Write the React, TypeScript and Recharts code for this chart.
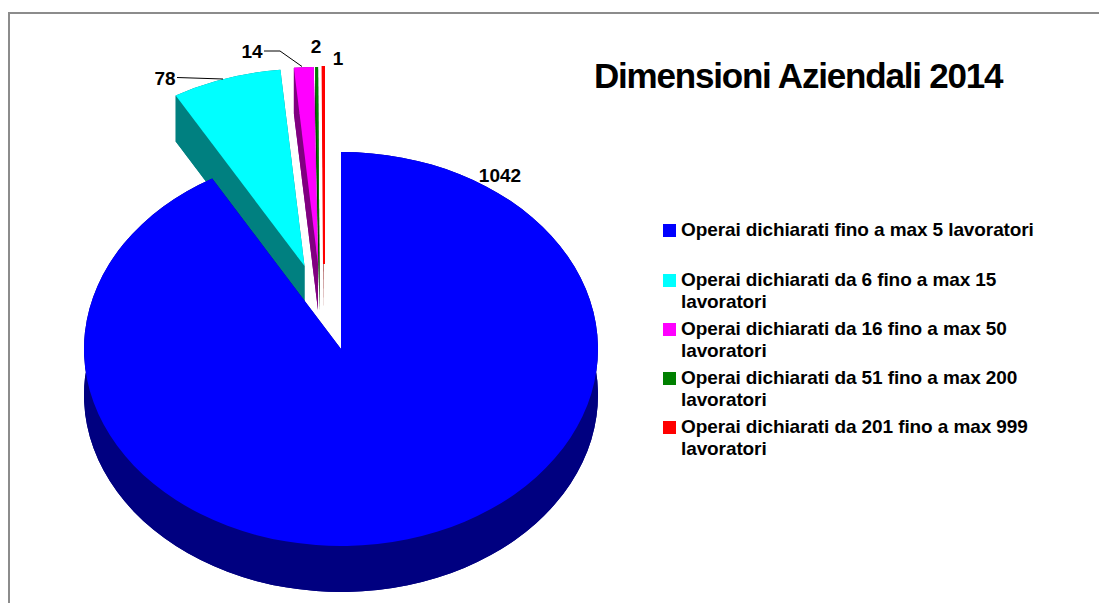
import React from "react";
import { PieChart, Pie, Legend } from "recharts";

const categories = [
  "Operai dichiarati fino a max 5 lavoratori",
  "Operai dichiarati da 6 fino a max 15 lavoratori",
  "Operai dichiarati da 16 fino a max 50 lavoratori",
  "Operai dichiarati da 51 fino a max 200 lavoratori",
  "Operai dichiarati da 201 fino a max 999 lavoratori",
];
const values = [1042, 78, 14, 2, 1];
const topColors = ["#0000ff", "#00ffff", "#ff00ff", "#008000", "#ff0000"];
const wallColors = ["#000080", "#008080", "#800080", "#003c00", "#800000"];
const title = "Dimensioni Aziendali 2014";

// Presentation settings, per series position
const explodeX = [0, -36.5, -23, -21.5, -17];
const explodeY = [0, -83, -85, -85, -85];
const topStroke = [0, 0, 0, 0, 2];
const labelX = [500, 165, 252, 316, 338];
const labelY = [175, 78, 51, 46, 58];
const leaders: (number[][] | null)[] = [
  null,
  [[177, 77.5], [223, 79]],
  [[264, 51], [280, 51], [302, 66.5]],
  null,
  null,
];
const legendTops = [219, 269, 318, 367, 416];

const FONT = '"Liberation Sans", Arial, sans-serif';
const CX = 341;
const CY = 349;
const RX = 257;
const RY = 197;
const DEPTH = 46;

// Drawn back to front: small exploded slices first, the big slice last.
const chartData = values
  .map((value, i) => ({ name: categories[i], value, idx: i, fill: topColors[i] }))
  .reverse();

function pt(cx: number, cy: number, deg: number, dy = 0) {
  const t = (deg * Math.PI) / 180;
  return [cx + RX * Math.cos(t), cy - RY * Math.sin(t) + dy];
}

function SliceShape(props: any) {
  const { startAngle, endAngle } = props;
  const idx = props.idx ?? props.payload?.idx ?? 0;
  const cx = CX + explodeX[idx];
  const cy = CY + explodeY[idx];
  const p1 = pt(cx, cy, startAngle);
  const p2 = pt(cx, cy, endAngle);
  const q1 = pt(cx, cy, startAngle, DEPTH);
  const q2 = pt(cx, cy, endAngle, DEPTH);
  const large = Math.abs(endAngle - startAngle) > 180 ? 1 : 0;
  const arc = (a: number[], sweep: number) => `A${RX} ${RY} 0 ${large} ${sweep} ${a[0]} ${a[1]}`;
  const top = `M${cx} ${cy}L${p1[0]} ${p1[1]}${arc(p2, 0)}Z`;
  const bottom = `M${cx} ${cy + DEPTH}L${q1[0]} ${q1[1]}${arc(q2, 0)}Z`;
  const rim = `M${p1[0]} ${p1[1]}${arc(p2, 0)}L${q2[0]} ${q2[1]}${arc(q1, 1)}Z`;
  const side1 = `M${cx} ${cy}L${p1[0]} ${p1[1]}L${q1[0]} ${q1[1]}L${cx} ${cy + DEPTH}Z`;
  const side2 = `M${cx} ${cy}L${p2[0]} ${p2[1]}L${q2[0]} ${q2[1]}L${cx} ${cy + DEPTH}Z`;
  const wall = wallColors[idx];
  return (
    <g>
      <path d={bottom} fill={wall} />
      <path d={rim} fill={wall} />
      <path d={side1} fill={wall} />
      <path d={side2} fill={wall} />
      <path
        d={top}
        fill={topColors[idx]}
        stroke={topStroke[idx] ? topColors[idx] : "none"}
        strokeWidth={topStroke[idx]}
      />
    </g>
  );
}

function SliceLabel(props: any) {
  const idx = props.idx ?? props.payload?.idx ?? 0;
  const line = leaders[idx];
  return (
    <g>
      {line && (
        <polyline
          points={line.map((p) => p.join(",")).join(" ")}
          fill="none"
          stroke="#000"
          strokeWidth={1}
        />
      )}
      <text
        x={labelX[idx]}
        y={labelY[idx]}
        textAnchor="middle"
        dominantBaseline="central"
        fontFamily={FONT}
        fontWeight="bold"
        fontSize={19}
        fill="#000"
      >
        {values[idx]}
      </text>
    </g>
  );
}

function LegendBox() {
  return (
    <div style={{ position: "relative", width: 400, height: 260 }}>
      {categories.map((c, i) => (
        <div key={c} style={{ position: "absolute", left: 0, top: legendTops[i] - 219, width: 372 }}>
          <div
            style={{
              position: "absolute",
              left: 0,
              top: 5,
              width: 13,
              height: 13,
              background: topColors[i],
            }}
          />
          <div
            style={{
              marginLeft: 18,
              font: `bold 19px/22px ${FONT}`,
              letterSpacing: -0.1,
              color: "#000",
              textAlign: "left",
            }}
          >
            {c}
          </div>
        </div>
      ))}
    </div>
  );
}

export default function App() {
  return (
    <div
      style={{
        position: "absolute",
        left: 0,
        top: 0,
        width: 1099,
        height: 603,
        overflow: "hidden",
        background: "#fff",
      }}
    >
      <div
        style={{
          position: "absolute",
          left: 8,
          top: 12,
          right: -4,
          bottom: -4,
          borderLeft: "2px solid #8c8c8c",
          borderTop: "2px solid #8c8c8c",
        }}
      />
      <div
        style={{
          position: "absolute",
          left: 594,
          top: 56,
          font: `bold 35px/40px ${FONT}`,
          letterSpacing: -1.2,
          color: "#000",
          whiteSpace: "nowrap",
        }}
      >
        {title}
      </div>
      <div style={{ position: "absolute", left: 0, top: 0 }}>
        <PieChart width={1099} height={603} margin={{ top: 0, right: 0, bottom: 0, left: 0 }}>
          <Pie
            data={chartData}
            dataKey="value"
            nameKey="name"
            cx={CX}
            cy={CY}
            innerRadius={0}
            outerRadius={RX}
            startAngle={90}
            endAngle={450}
            minAngle={0.22}
            stroke="none"
            shape={SliceShape}
            label={SliceLabel}
            labelLine={false}
            isAnimationActive={false}
          />
          <Legend
            content={LegendBox}
            layout="vertical"
            wrapperStyle={{ position: "absolute", left: 663, top: 219, width: 400, height: 260 }}
          />
        </PieChart>
      </div>
    </div>
  );
}
